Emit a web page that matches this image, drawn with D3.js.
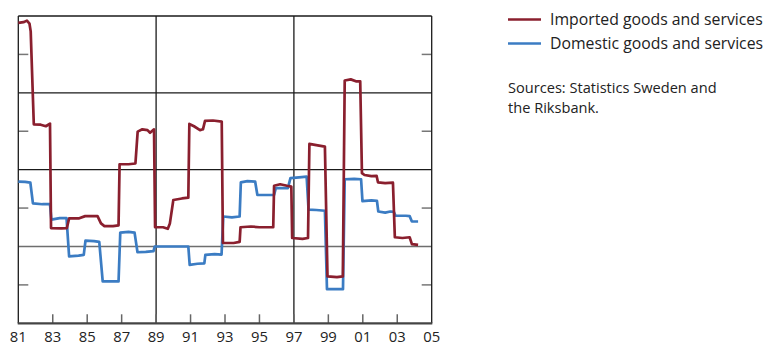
<!DOCTYPE html>
<html><head><meta charset="utf-8">
<script src="https://cdn.jsdelivr.net/npm/d3@7"></script>
<style>body{margin:0;background:#fff}svg{display:block}text{font-family:"Open Sans",sans-serif;fill:#222}</style>
</head><body><svg id="c" width="766" height="345"></svg>
<script>
// Data: [decimal year, value]
const imported = [
[1981.00,5.82],[1981.30,5.84],[1981.50,5.88],[1981.65,5.80],[1981.72,5.60],[1981.90,3.18],[1982.30,3.17],[1982.60,3.13],[1982.84,3.20],
[1982.90,0.48],[1983.50,0.47],[1983.82,0.48],[1983.95,0.73],[1984.50,0.73],[1984.88,0.79],[1985.60,0.79],[1985.80,0.60],[1986.00,0.53],
[1986.50,0.53],[1986.82,0.55],[1986.88,2.14],[1987.40,2.14],[1987.80,2.16],[1987.93,2.99],[1988.20,3.05],[1988.50,3.03],[1988.65,2.96],
[1988.88,3.05],[1988.94,0.50],[1989.40,0.50],[1989.68,0.46],[1989.80,0.60],[1990.00,1.21],[1990.50,1.25],[1990.87,1.27],[1990.93,3.19],
[1991.20,3.13],[1991.55,3.03],[1991.72,3.05],[1991.84,3.27],[1992.30,3.28],[1992.81,3.25],[1992.88,0.09],[1993.50,0.09],[1993.85,0.12],
[1993.90,0.50],[1994.50,0.52],[1995.00,0.50],[1995.80,0.50],[1995.85,1.58],[1996.20,1.62],[1996.60,1.58],[1996.85,1.56],[1996.90,0.22],
[1997.50,0.20],[1997.82,0.22],[1997.90,2.67],[1998.30,2.64],[1998.80,2.60],[1998.95,-0.78],[1999.50,-0.80],[1999.84,-0.78],[1999.95,4.32],
[2000.30,4.35],[2000.60,4.30],[2000.85,4.30],[2000.95,1.91],[2001.10,1.86],[2001.50,1.83],[2001.80,1.84],[2001.88,1.67],[2002.30,1.65],
[2002.75,1.66],[2002.86,0.24],[2003.30,0.22],[2003.72,0.24],[2003.85,0.06],[2004.21,0.04]];
const domestic = [
[1981.00,1.69],[1981.40,1.68],[1981.70,1.66],[1981.85,1.12],[1982.40,1.10],[1982.84,1.10],[1982.92,0.70],[1983.40,0.74],[1983.80,0.74],
[1983.95,-0.26],[1984.50,-0.24],[1984.80,-0.22],[1984.90,0.15],[1985.40,0.14],[1985.70,0.12],[1985.90,-0.91],[1986.50,-0.91],[1986.82,-0.91],
[1986.92,0.36],[1987.40,0.38],[1987.75,0.36],[1987.92,-0.15],[1988.40,-0.14],[1988.85,-0.12],[1988.92,0.00],[1989.50,0.00],[1990.50,0.00],
[1990.87,0.00],[1990.95,-0.48],[1991.40,-0.45],[1991.80,-0.44],[1991.86,-0.22],[1992.40,-0.20],[1992.80,-0.21],[1992.90,0.78],[1993.40,0.76],
[1993.85,0.78],[1993.92,1.67],[1994.30,1.70],[1994.75,1.69],[1994.88,1.34],[1995.40,1.34],[1995.85,1.34],[1995.95,1.52],[1996.65,1.52],
[1996.80,1.78],[1997.30,1.80],[1997.74,1.82],[1997.85,0.96],[1998.30,0.95],[1998.80,0.93],[1998.92,-1.11],[1999.50,-1.11],[1999.85,-1.11],
[1999.95,1.75],[2000.50,1.76],[2000.90,1.75],[2000.98,1.18],[2001.50,1.20],[2001.82,1.19],[2001.90,0.91],[2002.30,0.88],[2002.60,0.91],
[2002.80,0.90],[2002.90,0.80],[2003.50,0.80],[2003.72,0.79],[2003.85,0.65],[2004.21,0.65]];
const tickYears = [1981,1983,1985,1987,1989,1991,1993,1995,1997,1999,2001,2003,2005];
const tickLabels = ["81","83","85","87","89","91","93","95","97","99","01","03","05"];
const gridYears = [1989,1997];
const gridValues = [4,2,0];
const minorValues = [5,3,1,-1];
const legendLabels = ["Imported goods and services","Domestic goods and services"];
const sourceLines = ["Sources: Statistics Sweden and","the Riksbank."];

const RED="#8a1f2e", BLUE="#3b7cc3";
const svg=d3.select("#c");
const L=18.3,R=431.7,T=16,B=323.3;
const x=d3.scaleLinear().domain([1981,2005]).range([L,R]);
const y=d3.scaleLinear().domain([-2,6]).range([B,T]);

// gridlines
svg.selectAll(".gy").data(gridValues).join("line")
  .attr("x1",L).attr("x2",R).attr("y1",d=>y(d)).attr("y2",d=>y(d))
  .attr("stroke",d=>d===0?"#6e6e6e":"#1a1a1a").attr("stroke-width",1.3);
svg.selectAll(".gx").data(gridYears).join("line")
  .attr("x1",d=>x(d)).attr("x2",d=>x(d)).attr("y1",T).attr("y2",B)
  .attr("stroke","#1a1a1a").attr("stroke-width",1.3);
// minor y ticks both sides
svg.selectAll(".ml").data(minorValues).join("line")
  .attr("x1",L).attr("x2",L+10).attr("y1",d=>y(d)).attr("y2",d=>y(d))
  .attr("stroke","#777").attr("stroke-width",1.5);
svg.selectAll(".mr").data(minorValues).join("line")
  .attr("x1",R-10).attr("x2",R).attr("y1",d=>y(d)).attr("y2",d=>y(d))
  .attr("stroke","#777").attr("stroke-width",1.5);
// x ticks inside
svg.selectAll(".xt").data(tickYears.slice(1,-1)).join("line")
  .attr("x1",d=>x(d)).attr("x2",d=>x(d)).attr("y1",B-9).attr("y2",B)
  .attr("stroke","#666").attr("stroke-width",1.5);
// frame
svg.append("line").attr("x1",L).attr("x2",R).attr("y1",T).attr("y2",T).attr("stroke","#1a1a1a").attr("stroke-width",1.3);
svg.append("line").attr("x1",L).attr("x2",L).attr("y1",T).attr("y2",B).attr("stroke","#1a1a1a").attr("stroke-width",1.3);
svg.append("line").attr("x1",R).attr("x2",R).attr("y1",T).attr("y2",B).attr("stroke","#1a1a1a").attr("stroke-width",1.3);
svg.append("line").attr("x1",L-0.6).attr("x2",R+0.6).attr("y1",B).attr("y2",B).attr("stroke","#444").attr("stroke-width",2.2);

// x labels
svg.selectAll(".xl").data(tickYears).join("text")
  .attr("x",d=>x(d)).attr("y",341.5).attr("text-anchor","middle")
  .attr("font-size",14.8).text((d,i)=>tickLabels[i]);

// lines
const line=d3.line().x(d=>x(d[0])).y(d=>y(d[1]));
svg.append("path").datum(domestic).attr("d",line).attr("fill","none").attr("stroke",BLUE).attr("stroke-width",2.7).attr("stroke-linejoin","round");
svg.append("path").datum(imported).attr("d",line).attr("fill","none").attr("stroke",RED).attr("stroke-width",2.7).attr("stroke-linejoin","round");

// legend
const lg=[RED,BLUE];
legendLabels.forEach((t,i)=>{
  const yy=19.5+i*24;
  svg.append("line").attr("x1",508).attr("x2",541).attr("y1",yy).attr("y2",yy).attr("stroke",lg[i]).attr("stroke-width",2.7);
  svg.append("text").attr("x",550).attr("y",yy+5.7).attr("font-size",15.8).text(t);
});
sourceLines.forEach((t,i)=>{
  svg.append("text").attr("x",508).attr("y",92.5+i*20).attr("font-size",14.6).text(t);
});
</script></body></html>
